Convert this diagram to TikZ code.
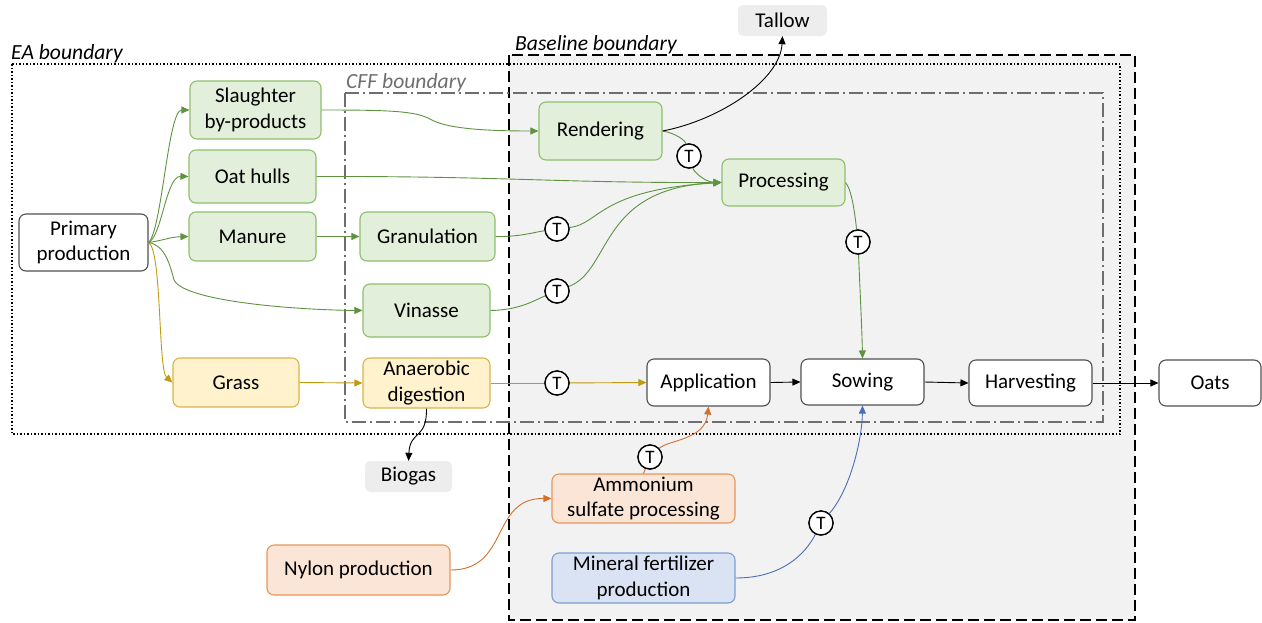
\documentclass[tikz,border=0pt]{standalone}
\usepackage{fontspec}
\setmainfont{Carlito}
\usetikzlibrary{arrows.meta}
\definecolor{gfill}{HTML}{E2EFDA}
\definecolor{gdraw}{HTML}{8FBF6C}
\definecolor{gline}{HTML}{5E9340}
\definecolor{yfill}{HTML}{FFF2CC}
\definecolor{ydraw}{HTML}{D9B44A}
\definecolor{yline}{HTML}{C09A10}
\definecolor{ofill}{HTML}{FBE5D6}
\definecolor{odraw}{HTML}{E8955A}
\definecolor{oline}{HTML}{D2702C}
\definecolor{bfill}{HTML}{DAE3F3}
\definecolor{bdraw}{HTML}{7F9CCF}
\definecolor{bline}{HTML}{4A6FB5}
\definecolor{wdraw}{HTML}{505050}
\definecolor{basefill}{HTML}{F2F2F2}
\definecolor{outfill}{HTML}{EDEDED}
\definecolor{cffcol}{HTML}{6E6E6E}
\begin{document}
\begin{tikzpicture}[x=1pt,y=-1pt,
  every node/.style={font=\fontsize{21}{25.5}\selectfont},
  procbox/.style={draw, rounded corners=7pt, align=center, inner sep=0pt, line width=1.1pt},
  wbox/.style={procbox, draw=wdraw, fill=white},
  gbox/.style={procbox, draw=gdraw, fill=gfill},
  ybox/.style={procbox, draw=ydraw, fill=yfill},
  obox/.style={procbox, draw=odraw, fill=ofill},
  bbox/.style={procbox, draw=bdraw, fill=bfill},
  outbox/.style={rounded corners=5pt, fill=outfill, inner sep=0pt},
  tcirc/.style={circle, draw=black, line width=1.3pt, fill=white, minimum size=24pt, inner sep=0pt, font=\fontsize{19}{20}\selectfont},
  conn/.style={line width=0.9pt, -{Triangle[length=8pt,width=7pt]}},
  plain/.style={line width=0.9pt},
  blabel/.style={font=\fontsize{21.6}{24}\selectfont\itshape, anchor=base west, inner sep=0pt}
]
\useasboundingbox (0,0) rectangle (1262,622);
% boundaries
\draw[fill=basefill, line width=1.9pt, dash pattern=on 11pt off 5pt] (509,55) rectangle (1135,620);
\draw[line width=1.5pt, dotted] (12,64) rectangle (1120,434);
\draw[cffcol, line width=1.3pt, dash pattern=on 14pt off 4pt on 2pt off 4pt] (345,93) rectangle (1103,422);
\node[blabel] (ealab) at (11,59) {EA boundary};
\node[blabel] (baselab) at (515,50) {Baseline boundary};
\node[blabel, text=cffcol] (cfflab) at (346,88) {CFF boundary};

% nodes
\node[wbox, minimum width=129pt, minimum height=57pt] (prim) at (83.5,242.5) {Primary\\production};
\node[gbox, minimum width=131pt, minimum height=58pt] (sl) at (255.5,110) {Slaughter\\by-products};
\node[gbox, minimum width=127pt, minimum height=53pt] (oat) at (252.5,176.5) {Oat hulls};
\node[gbox, minimum width=127pt, minimum height=49pt] (man) at (252.5,236.5) {Manure};
\node[gbox, minimum width=135pt, minimum height=49pt] (gran) at (427.5,236.5) {Granulation};
\node[gbox, minimum width=127pt, minimum height=53pt] (vin) at (426.5,310.5) {Vinasse};
\node[ybox, minimum width=126pt, minimum height=49pt] (grass) at (236,382.5) {Grass};
\node[ybox, minimum width=127pt, minimum height=50pt] (ad) at (426.5,383) {Anaerobic\\digestion};
\node[gbox, minimum width=123pt, minimum height=58pt] (rend) at (600.5,131) {Rendering};
\node[gbox, minimum width=123pt, minimum height=47pt] (proc) at (783.5,182.5) {Processing};
\node[wbox, minimum width=123pt, minimum height=47pt] (app) at (708.5,382.5) {Application};
\node[wbox, minimum width=123pt, minimum height=46pt] (sow) at (862.5,382) {Sowing};
\node[wbox, minimum width=123pt, minimum height=46pt] (harv) at (1030.5,383) {Harvesting};
\node[wbox, minimum width=102pt, minimum height=46pt] (oats) at (1210,383) {Oats};
\node[outbox, minimum width=89pt, minimum height=31pt] (tallow) at (782.5,20.5) {Tallow};
\node[outbox, minimum width=87pt, minimum height=31pt] (biogas) at (408.5,476.5) {Biogas};
\node[obox, minimum width=183pt, minimum height=49pt] (amm) at (643.5,498.5) {Ammonium\\sulfate processing};
\node[bbox, minimum width=183pt, minimum height=50pt] (minf) at (643.5,578) {Mineral fertilizer\\production};
\node[obox, minimum width=183pt, minimum height=50pt] (nyl) at (358.5,570) {Nylon production};

% transport circles
\node[tcirc] (t1) at (557,229) {T};
\node[tcirc] (t2) at (557,291) {T};
\node[tcirc] (t3) at (689,156) {T};
\node[tcirc] (t4) at (858,242) {T};
\node[tcirc] (t5) at (557,383) {T};
\node[tcirc] (t6) at (650,457) {T};
\node[tcirc] (t7) at (821,523) {T};

% connectors
\draw[conn, gline] (prim.east) .. controls (162,230) and (168,110) .. (sl.west);
\draw[conn, gline] (prim.east) .. controls (162,236) and (166,176) .. (oat.west);
\draw[conn, gline] (prim.east) .. controls (165,240) and (170,237) .. (man.west);
\draw[conn, gline] (prim.east) .. controls (165,245) and (170,265) .. (174,280) .. controls (185,302) and (300,310) .. (vin.west);
\draw[conn, yline] (prim.east) .. controls (162,250) and (158,370) .. (grass.west);
\draw[conn, gline] (sl.east) .. controls (390,110) and (415,111) .. (430,119) .. controls (445,128) and (480,131) .. (rend.west);
\draw[conn, gline] (oat.east) .. controls (500,176) and (560,183) .. (proc.west);
\draw[conn, gline] (man.east) -- (gran.west);
\draw[plain, gline] (gran.east) .. controls (520,237) and (535,232) .. (t1);
\draw[conn, gline] (t1) .. controls (600,224) and (598,190) .. (proc.west);
\draw[plain, gline] (vin.east) .. controls (520,310) and (535,300) .. (t2);
\draw[conn, gline] (t2) .. controls (612,270) and (598,188) .. (proc.west);
\draw[plain, gline] (rend.east) .. controls (675,133) and (685,140) .. (t3);
\draw[conn, gline] (t3) .. controls (694,172) and (705,182) .. (proc.west);
\draw[conn, black] (rend.east) .. controls (720,120) and (780,80) .. (tallow.south);
\draw[plain, gline] (proc.east) .. controls (852,190) and (855,215) .. (t4);
\draw[conn, gline] (t4) .. controls (860,290) and (862,330) .. (sow.north);
\draw[conn, yline] (grass.east) -- (ad.west);
\draw[plain, yline] (ad.east) -- (t5);
\draw[conn, yline] (t5) -- (app.west);
\draw[conn, black] (ad.south) .. controls (427,440) and (410,430) .. (biogas.north);
\draw[conn, black] (app.east) -- (sow.west);
\draw[conn, black] (sow.east) -- (harv.west);
\draw[conn, black] (harv.east) -- (oats.west);
\draw[plain, oline] (amm.north) -- (t6);
\draw[conn, oline] (t6) .. controls (668,440) and (705,440) .. (app.south);
\draw[conn, oline] (nyl.east) .. controls (510,570) and (490,498) .. (amm.west);
\draw[plain, bline] (minf.east) .. controls (790,578) and (810,545) .. (t7);
\draw[conn, bline] (t7) .. controls (850,490) and (862,440) .. (sow.south);
% redraw circles on top
\foreach \c in {t1,t2,t3,t4,t5,t6,t7} {
  \node[tcirc] at (\c) {T};
}
\end{tikzpicture}
\end{document}
